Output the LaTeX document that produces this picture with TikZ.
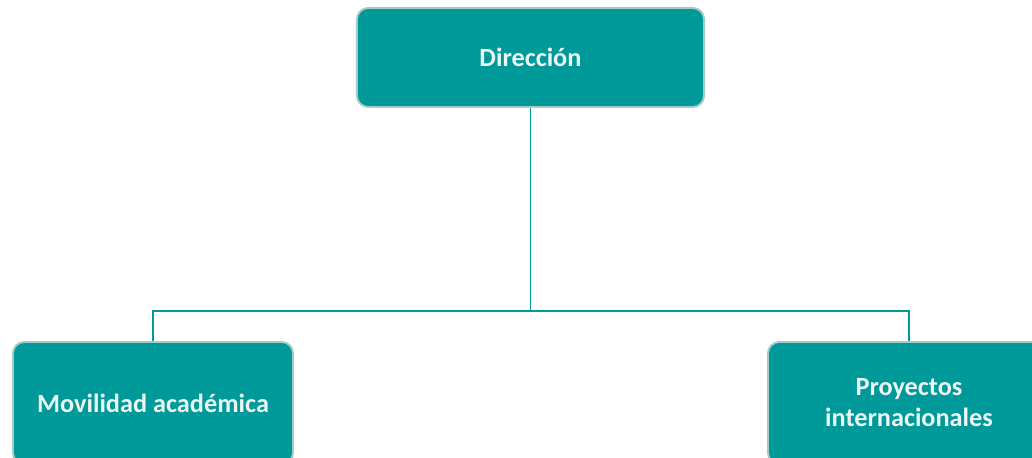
\documentclass[tikz,border=0pt]{standalone}
\usepackage{fontspec}
\setmainfont{Carlito}
\usepackage{tikz}
\usetikzlibrary{positioning, calc}

\definecolor{tealbox}{RGB}{0,153,153}
\definecolor{tealedge}{RGB}{166,204,198}
\definecolor{boxtext}{RGB}{236,246,244}

\tikzset{
  unit/.style={draw=tealedge, line width=1.4pt, fill=tealbox, rounded corners=8pt,
    text=boxtext, font=\bfseries\fontsize{18.7}{22}\selectfont, align=center,
    inner sep=0pt},
  link/.style={draw=tealbox, line width=1.2pt}
}

\begin{document}
\begin{tikzpicture}[x=0.025cm, y=-0.025cm]
			\useasboundingbox (0,0) rectangle (1032,458);
			\clip (0,0) rectangle (1032,458);
			\node[unit, minimum width=8.675cm, minimum height=2.475cm] (dir) at (530.5,57.5) {Dirección};
			\node[unit, minimum width=7cm, minimum height=3.05cm] (mov) at (153,403) {Movilidad académica};
			\node[unit, minimum width=7.05cm, minimum height=3.05cm] (proy) at (909,403) {Proyectos\\internacionales};
			\coordinate (split) at ($(dir.south) + (0,203)$); % joint of the tree
			\draw[link] (dir.south) -- (split);
			\draw[link] (split) -| (mov.north);
			\draw[link] (split) -| (proy.north);
		\end{tikzpicture}
\end{document}
